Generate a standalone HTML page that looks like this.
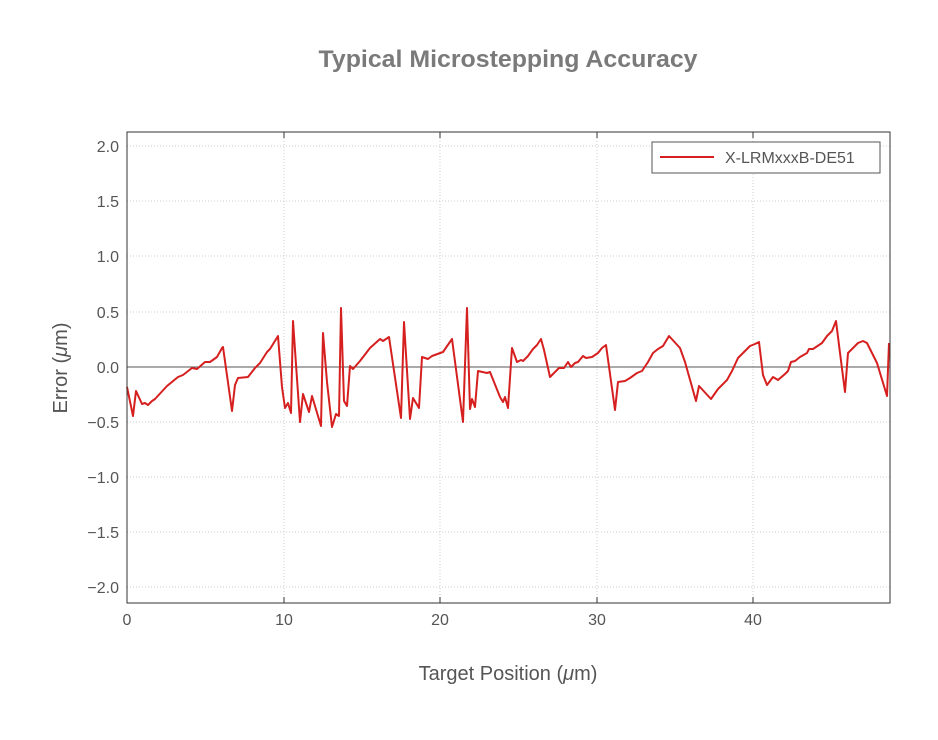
<!DOCTYPE html>
<html><head><meta charset="utf-8"><style>
body{margin:0;background:#fff;width:938px;height:735px;overflow:hidden}
svg text{font-family:"Liberation Sans",sans-serif}
</style></head><body>
<svg width="938" height="735" viewBox="0 0 938 735" xmlns="http://www.w3.org/2000/svg">
<rect width="938" height="735" fill="#fff"/>
<text x="508" y="67" text-anchor="middle" font-size="24" font-weight="bold" fill="#7a7a7a" textLength="379" lengthAdjust="spacingAndGlyphs">Typical Microstepping Accuracy</text>
<g stroke="#ccc" stroke-width="1" stroke-dasharray="1,2">
<line x1="284" y1="132" x2="284" y2="603"/><line x1="440" y1="132" x2="440" y2="603"/><line x1="597" y1="132" x2="597" y2="603"/><line x1="753" y1="132" x2="753" y2="603"/>
<line x1="127" y1="146" x2="890" y2="146"/><line x1="127" y1="201" x2="890" y2="201"/><line x1="127" y1="256" x2="890" y2="256"/><line x1="127" y1="312" x2="890" y2="312"/><line x1="127" y1="422" x2="890" y2="422"/><line x1="127" y1="477" x2="890" y2="477"/><line x1="127" y1="532" x2="890" y2="532"/><line x1="127" y1="587" x2="890" y2="587"/>
</g>
<line x1="127" y1="367" x2="890" y2="367" stroke="#555" stroke-width="1"/>
<polyline fill="none" stroke="#d62020" stroke-width="2" stroke-linejoin="round" points="127,387 133,416 136,391 142,404 145,403 148,405 152,401 155,399 167,386 178,377 183,375 192,368 197,369 205,362 210,362 217,357 222,348 223,347 232,411 235,385 238,378 248,377 255,368 260,363 267,352 270,349 278,336 282,387 285,408 288,403 291,413 293,321 300,422 303,394 309,412 312,396 321,426 323,333 327,382 332,427 336,414 339,416 341,308 344,401 347,406 350,366 353,369 360,361 370,348 380,339 383,341 389,337 401,418 404,322 410,419 413,398 419,408 422,357 428,359 432,356 443,352 452,339 463,422 467,308 470,409 472,399 475,407 478,371 487,373 490,372 500,397 503,402 505,397 508,408 512,348 517,362 521,360 523,361 528,356 533,349 537,345 541,339 544,350 550,377 553,374 559,368 564,368 568,362 571,367 575,363 578,362 583,356 586,358 592,357 598,353 602,348 606,345 615,410 618,382 625,381 630,378 637,373 642,371 648,362 653,353 658,349 663,346 669,336 680,348 685,362 696,401 699,386 711,399 718,389 727,380 732,371 738,358 750,346 755,344 759,342 763,375 767,385 773,377 778,380 785,374 788,371 791,362 795,361 800,357 807,353 809,349 813,349 822,343 827,336 832,331 836,321 840,353 845,392 848,353 853,348 858,343 863,341 867,343 877,363 887,396 889,343"/>
<rect x="127" y="132" width="763" height="471" fill="none" stroke="#333" stroke-width="1"/>
<g stroke="#333" stroke-width="1">
<line x1="284" y1="603" x2="284" y2="597"/><line x1="440" y1="603" x2="440" y2="597"/><line x1="597" y1="603" x2="597" y2="597"/><line x1="753" y1="603" x2="753" y2="597"/>
<line x1="284" y1="132" x2="284" y2="138"/><line x1="440" y1="132" x2="440" y2="138"/><line x1="597" y1="132" x2="597" y2="138"/><line x1="753" y1="132" x2="753" y2="138"/>
</g>
<g font-size="16" fill="#555" text-anchor="middle">
<text x="127" y="625">0</text><text x="284" y="625">10</text><text x="440" y="625">20</text><text x="597" y="625">30</text><text x="753" y="625">40</text>
</g>
<g font-size="16" fill="#555" text-anchor="end">
<text x="119" y="152">2.0</text><text x="119" y="207">1.5</text><text x="119" y="262">1.0</text><text x="119" y="318">0.5</text><text x="119" y="373">0.0</text><text x="119" y="428">−0.5</text><text x="119" y="483">−1.0</text><text x="119" y="538">−1.5</text><text x="119" y="593">−2.0</text>
</g>
<text x="508" y="680" text-anchor="middle" font-size="20" fill="#555">Target Position (<tspan font-style="italic">μ</tspan>m)</text>
<text transform="translate(67,368) rotate(-90)" text-anchor="middle" font-size="20" fill="#555">Error (<tspan font-style="italic">μ</tspan>m)</text>
<rect x="652" y="142" width="228" height="31" fill="#fff" stroke="#555" stroke-width="1"/>
<line x1="660" y1="157" x2="714" y2="157" stroke="#d62020" stroke-width="2"/>
<text x="725" y="163" font-size="16" fill="#555">X-LRMxxxB-DE51</text>
</svg>
</body></html>
